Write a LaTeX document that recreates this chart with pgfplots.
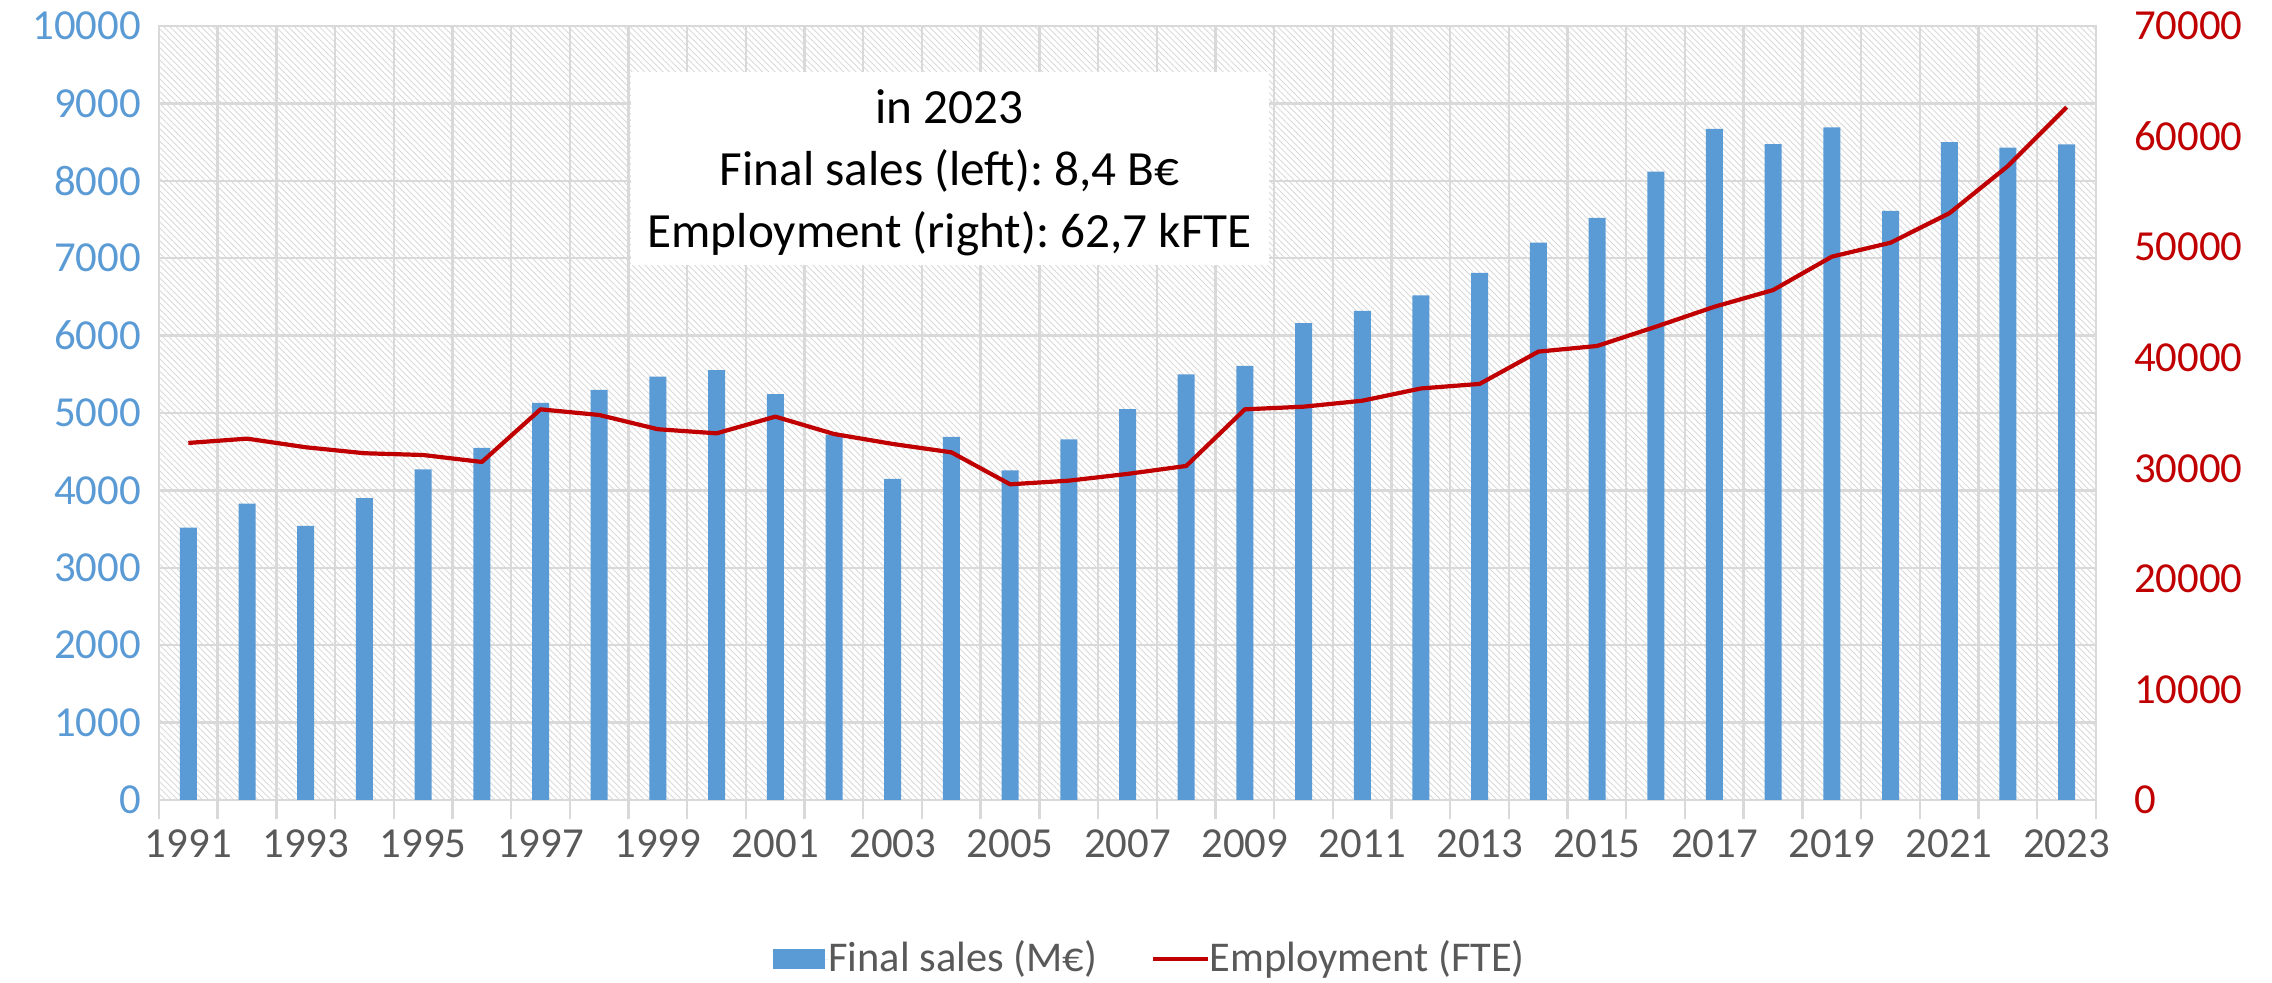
\documentclass[border=0pt]{standalone}
\usepackage{fontspec}
\setmainfont{Carlito}
\usepackage{pgfplots}
\pgfplotsset{compat=1.18}
\usetikzlibrary{patterns.meta}
\frenchspacing

\definecolor{barblue}{HTML}{5B9BD5}
\definecolor{linered}{HTML}{C00000}
\definecolor{txtgray}{HTML}{595959}
\definecolor{gridgray}{HTML}{D9D9D9}

\pgfplotsset{
  common/.style={
    scale only axis, width=484.25pt, height=193.5pt,
    at={(0,0)}, anchor=south west,
    xmin=1990.5, xmax=2023.5,
    /pgf/number format/fixed,
    /pgf/number format/1000 sep={},
    /pgf/number format/assume math mode=true,
    scaled y ticks=false,
    tick label style={font=\fontsize{10.7pt}{12pt}\selectfont},
  }
}

\begin{document}
\begin{tikzpicture}
\path[use as bounding box] (-39.75pt,-45.75pt) rectangle (528.25pt,200pt);
\begin{axis}[common,
  ybar, bar width=4.25pt,
  ymin=0, ymax=10000, ytick={0,1000,...,10000},
  axis background/.style={pattern={Lines[angle=-45,distance=1.1pt,line width=0.22pt]}, pattern color=gridgray},
  ymajorgrids, xminorgrids,
  grid style={gridgray, line width=0.6pt},
  minor grid style={gridgray, line width=0.6pt},
  xtick={1991,1993,...,2023},
  minor xtick={1990.5,1991.5,...,2023.5},
  xtick pos=left, ytick pos=left,
  tick align=outside, major tick length=0pt, minor tick length=4.8pt,
  xtick style={gridgray, line width=0.6pt}, ytick style={draw=none},
  axis line style={gridgray, line width=0.6pt},
  yticklabel style={barblue, xshift=-1pt},
  xticklabel style={txtgray, yshift=-4pt},
  legend style={at={(axis description cs:0.513,-0.206)}, anchor=center,
    legend columns=-1, draw=none, fill=none,
    font=\fontsize{10.6pt}{13pt}\selectfont, text=txtgray,
    /tikz/every odd column/.append style={column sep=-2pt},
    /tikz/every even column/.append style={column sep=11.5pt}},
]
\addplot[fill=barblue, draw=none,
  legend image code/.code={\fill[barblue] (0pt,-2.5pt) rectangle (13pt,2.5pt);
    \path (0pt,0pt) -- (14pt,0pt);}]
  coordinates {
  (1991,3520) (1992,3830) (1993,3540) (1994,3900) (1995,4270) (1996,4550)
  (1997,5130) (1998,5300) (1999,5470) (2000,5555) (2001,5245) (2002,4720)
  (2003,4150) (2004,4690) (2005,4260) (2006,4660) (2007,5050) (2008,5500)
  (2009,5610) (2010,6160) (2011,6320) (2012,6520) (2013,6810) (2014,7200)
  (2015,7520) (2016,8120) (2017,8670) (2018,8475) (2019,8690) (2020,7610)
  (2021,8500) (2022,8430) (2023,8470)
  };
\addlegendentry{Final sales (M€)}
\addlegendimage{legend image code/.code={\draw[linered, line width=1pt] (0pt,0pt) -- (13.7pt,0pt);}}
\addlegendentry{Employment (FTE)}
\node[fill=white, inner sep=0pt, minimum width=159.5pt, minimum height=48.25pt]
  at (axis cs:2003.97,8159) {};
\node[inner sep=0pt, align=center, font=\fontsize{12.3pt}{15.5pt}\selectfont,
  yshift=-1.1pt] at (axis cs:2003.97,8159)
  {in 2023\\Final sales (left): 8,4 B€\\Employment (right): 62,7 kFTE};
\end{axis}

\begin{axis}[common,
  axis y line*=right, axis x line=none,
  ymin=0, ymax=70000, ytick={0,10000,...,70000},
  ytick style={draw=none}, y axis line style={draw=none},
  yticklabel style={linered, xshift=6pt},
]
\addplot[linered, line width=1.05pt, line join=round] coordinates {
  (1991,32290) (1992,32680) (1993,31900) (1994,31360) (1995,31200) (1996,30570)
  (1997,35330) (1998,34820) (1999,33530) (2000,33160) (2001,34670) (2002,33100)
  (2003,32200) (2004,31440) (2005,28550) (2006,28880) (2007,29490) (2008,30210)
  (2009,35330) (2010,35570) (2011,36110) (2012,37220) (2013,37630) (2014,40550)
  (2015,41060) (2016,42800) (2017,44610) (2018,46120) (2019,49140) (2020,50400)
  (2021,53060) (2022,57340) (2023,62650)
  };
\end{axis}
\end{tikzpicture}
\end{document}
